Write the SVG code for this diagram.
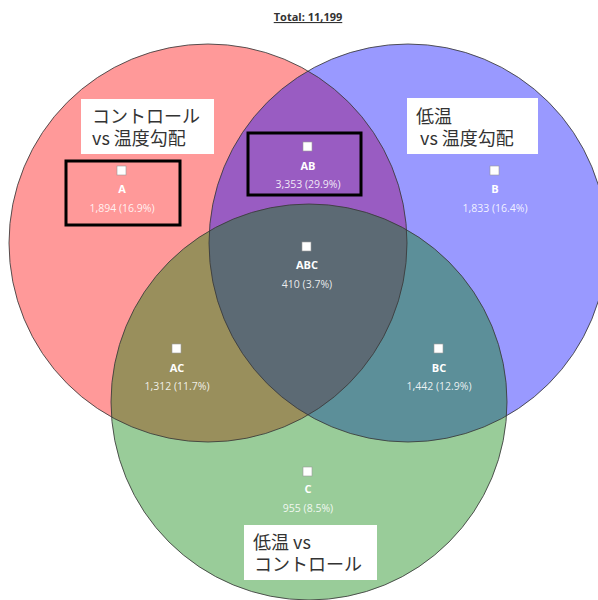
<svg xmlns="http://www.w3.org/2000/svg" width="598" height="600" viewBox="0 0 598 600">
<style>
.set{fill-opacity:0.4}
.edge{fill:none;stroke:#3a3a3a;stroke-width:1;stroke-opacity:0.85}
.mk{fill:#fff;stroke:#999;stroke-width:0.6}
.nm{font-family:"Open Sans","Noto Sans",sans-serif;font-weight:bold;font-size:11px;fill:#fff;text-anchor:middle}
.ct{font-family:"Open Sans","Noto Sans",sans-serif;font-size:10.5px;fill:#fff;fill-opacity:0.88;text-anchor:middle}
.hl{fill:none;stroke:#000;stroke-width:3}
.lb{fill:#fff}
.jp{font-family:"Noto Sans CJK JP","Noto Sans",sans-serif;font-size:18px;fill:#333}
.ttl{font-family:"Open Sans","Noto Sans",sans-serif;font-weight:bold;font-size:11px;fill:#333;text-anchor:middle;text-decoration:underline}
</style>
<rect width="598" height="600" fill="#fff"/>
<text class="ttl" x="308" y="21">Total: 11,199</text>
<g id="sets">
<circle id="setA" class="set" cx="208" cy="243" r="199" fill="#ff0000"/>
<circle id="setB" class="set" cx="408" cy="243" r="199" fill="#0000ff"/>
<circle id="setC" class="set" cx="309" cy="402" r="198" fill="#008000"/>
</g>
<g id="connectors">
<circle class="edge" cx="208" cy="243" r="199"/>
<circle class="edge" cx="408" cy="243" r="199"/>
<circle class="edge" cx="309" cy="402" r="198"/>
</g>
<g id="region-A">
<rect class="mk" x="117" y="166" width="9" height="9"/>
<text class="nm" x="122" y="193">A</text>
<text class="ct" x="122" y="212">1,894 (16.9%)</text>
<rect class="hl" x="66" y="161" width="114" height="64"/>
</g>
<g id="region-AB">
<rect class="mk" x="303" y="142" width="9" height="9"/>
<text class="nm" x="308" y="170">AB</text>
<text class="ct" x="308" y="188">3,353 (29.9%)</text>
<rect class="hl" x="248" y="133" width="113" height="62"/>
</g>
<g id="region-B">
<rect class="mk" x="490" y="166" width="9" height="9"/>
<text class="nm" x="495" y="193">B</text>
<text class="ct" x="495" y="212">1,833 (16.4%)</text>
</g>
<g id="region-ABC">
<rect class="mk" x="302" y="242" width="9" height="9"/>
<text class="nm" x="307" y="269">ABC</text>
<text class="ct" x="307" y="288">410 (3.7%)</text>
</g>
<g id="region-AC">
<rect class="mk" x="172" y="344" width="9" height="9"/>
<text class="nm" x="177" y="372">AC</text>
<text class="ct" x="177" y="390">1,312 (11.7%)</text>
</g>
<g id="region-BC">
<rect class="mk" x="434" y="344" width="9" height="9"/>
<text class="nm" x="439" y="372">BC</text>
<text class="ct" x="439" y="390">1,442 (12.9%)</text>
</g>
<g id="region-C">
<rect class="mk" x="303" y="467" width="9" height="9"/>
<text class="nm" x="308" y="493">C</text>
<text class="ct" x="308" y="512">955 (8.5%)</text>
</g>
<g id="label-A">
<rect class="lb" x="81" y="99" width="133" height="55"/>
<text class="jp" x="92" y="123">コントロール</text>
<text class="jp" x="92" y="145">vs 温度勾配</text>
</g>
<g id="label-B">
<rect class="lb" x="407" y="98" width="131" height="56"/>
<text class="jp" x="416" y="123">低温</text>
<text class="jp" x="416" y="145" xml:space="preserve"> vs 温度勾配</text>
</g>
<g id="label-C">
<rect class="lb" x="244" y="525" width="133" height="55"/>
<text class="jp" x="253" y="549">低温 vs</text>
<text class="jp" x="254" y="571">コントロール</text>
</g>
</svg>
